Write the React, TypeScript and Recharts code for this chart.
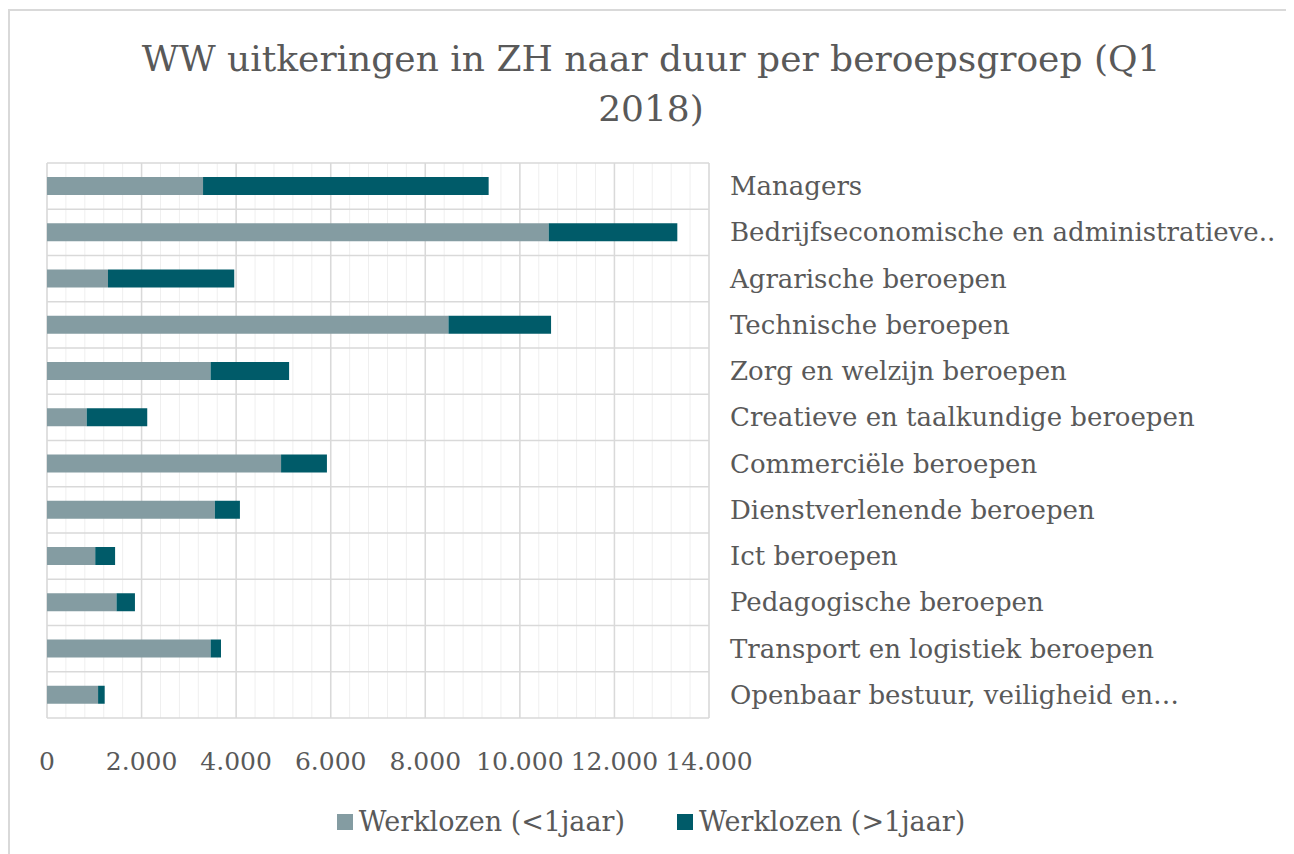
import React from 'react'
import { BarChart, Bar, XAxis, YAxis, CartesianGrid } from 'recharts'

const categories = [
  'Managers',
  'Bedrijfseconomische en administratieve..',
  'Agrarische beroepen',
  'Technische beroepen',
  'Zorg en welzijn beroepen',
  'Creatieve en taalkundige beroepen',
  'Commerciële beroepen',
  'Dienstverlenende beroepen',
  'Ict beroepen',
  'Pedagogische beroepen',
  'Transport en logistiek beroepen',
  'Openbaar bestuur, veiligheid en…'
]
const shortTerm = [3300, 10610, 1290, 8490, 3460, 840, 4950, 3550, 1020, 1470, 3460, 1080]
const longTerm = [6040, 2720, 2670, 2170, 1660, 1280, 970, 530, 420, 390, 220, 140]
const xTicks = [0, 2000, 4000, 6000, 8000, 10000, 12000, 14000]
const seriesNames = ['Werklozen (<1jaar)', 'Werklozen (>1jaar)']

const LIGHT = '#849ca2'
const DARK = '#005b69'
const TEXT = '#595959'
const FONT = '"DejaVu Serif", serif'

const data = categories.map((name, i) => ({ name, short: shortTerm[i], long: longTerm[i] }))

// minor grid every 400
const minorTicks = Array.from({ length: 36 }, (_, i) => i * 400)

const fmt = (v: number) => String(v).replace(/\B(?=(\d{3})+(?!\d))/g, '.')

const XTick = ({ x, y, payload }: any) => (
  <text x={x} y={y + 52} textAnchor="middle" fill={TEXT} fontSize={25} fontFamily={FONT}>
    {fmt(payload.value)}
  </text>
)

const YTick = ({ x, y, payload }: any) => (
  <text x={x + 21} y={y + 9} textAnchor="start" fill={TEXT} fontSize={26} fontFamily={FONT}>
    {payload.value}
  </text>
)

const bandLines = ({ offset }: any) =>
  Array.from({ length: categories.length + 1 }, (_, i) => offset.top + (i * offset.height) / categories.length)

export default function App() {
  return (
    <div
      style={{
        position: 'relative',
        width: 1282,
        height: 843,
        marginTop: 1,
        borderLeft: '2px solid #d9d9d9',
        borderTop: '2px solid #d9d9d9',
        borderRight: '2px solid #d9d9d9',
        background: '#fff',
        fontFamily: FONT,
        color: TEXT
      }}
    >
      <div
        style={{
          position: 'absolute',
          top: 23,
          left: 0,
          width: 1282,
          textAlign: 'center',
          fontSize: 36,
          lineHeight: '50px'
        }}
      >
        WW uitkeringen in ZH naar duur per beroepsgroep (Q1
        <br />
        2018)
      </div>
      <BarChart
        width={1282}
        height={843}
        data={data}
        layout="vertical"
        margin={{ top: 152, right: 0, left: 37, bottom: 76 }}
        barSize={18}
      >
        <CartesianGrid
          horizontal={false}
          verticalValues={minorTicks}
          stroke="#efefef"
          strokeWidth={1}
        />
        <CartesianGrid
          horizontal={false}
          verticalValues={xTicks}
          stroke="#d9d9d9"
          strokeWidth={1.5}
        />
        <CartesianGrid
          vertical={false}
          horizontalCoordinatesGenerator={bandLines}
          stroke="#d9d9d9"
          strokeWidth={1.5}
        />
        <XAxis
          type="number"
          domain={[0, 14000]}
          ticks={xTicks}
          axisLine={false}
          tickLine={false}
          tickSize={0}
          tickMargin={0}
          height={60}
          tick={<XTick />}
          interval={0}
        />
        <YAxis
          type="category"
          dataKey="name"
          orientation="right"
          axisLine={false}
          tickLine={false}
          tickSize={0}
          tickMargin={0}
          width={583}
          interval={0}
          tick={<YTick />}
        />
        <Bar dataKey="short" stackId="a" fill={LIGHT} isAnimationActive={false} />
        <Bar dataKey="long" stackId="a" fill={DARK} isAnimationActive={false} />
      </BarChart>
      <div
        style={{
          position: 'absolute',
          top: 795,
          left: 0,
          width: 1282,
          display: 'flex',
          justifyContent: 'center',
          fontSize: 27,
          lineHeight: '32px'
        }}
      >
        {seriesNames.map((n, i) => (
          <div key={n} style={{ display: 'flex', alignItems: 'center', marginLeft: i ? 52 : 0 }}>
            <span
              style={{
                display: 'inline-block',
                width: 16,
                height: 16,
                background: i ? DARK : LIGHT,
                marginRight: 6
              }}
            />
            <span>{n}</span>
          </div>
        ))}
      </div>
    </div>
  )
}
